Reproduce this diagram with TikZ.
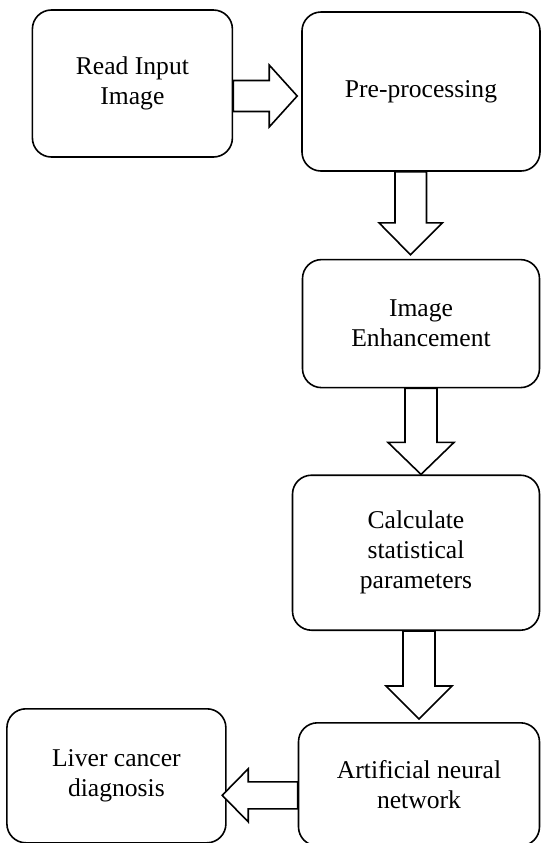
\documentclass[tikz,border=0pt]{standalone}
\usepackage{fontspec}
\setmainfont{Liberation Serif}
\usepackage{tikz}
\usetikzlibrary{positioning,calc}

\begin{document}
\begin{tikzpicture}[x=0.5pt, y=-0.5pt,
  box/.style={draw, line width=0.8pt, rounded corners=9.5pt, align=center,
    font=\fontsize{12.8pt}{15pt}\selectfont, inner sep=2pt},
  blk/.style={draw, line width=0.8pt, fill=white, line join=miter},
]
  \useasboundingbox (0,0) rectangle (541,843);

  \node[box, minimum width=119pt, minimum height=79.5pt] (pre) at (421,91.5) {Pre-processing};
  \node[box, minimum width=100pt, minimum height=73.5pt, left=34pt of pre, yshift=4pt] (read) {Read Input\\ Image};
  \node[box, minimum width=118.5pt, minimum height=64pt, below=43.5pt of pre] (enh) {Image\\ Enhancement};
  \node[box, minimum width=123.5pt, minimum height=77.5pt, below=43pt of enh, xshift=-2.5pt] (stats) {Calculate\\ statistical\\ parameters};
  \node[box, minimum width=120.5pt, minimum height=61.5pt, below=45.5pt of stats, xshift=1.5pt] (ann) {Artificial neural\\ network};
  \node[box, minimum width=109.5pt, minimum height=67pt, left=35.5pt of ann, yshift=4.25pt] (liver) {Liver cancer\\ diagnosis};

  % block arrows
  \draw[blk] ($(read.east)+(0,-3)$) -- ++(36,0) -- ++(0,-15.5) -- ($(pre.west)+(-4,4.5)$)
    -- ++(-28,31) -- ++(0,-15.5) -- ++(-36,0) -- cycle;
  \draw[blk] ($(pre.south)+(-26,0)$) -- ++(0,51) -- ++(-16,0) -- ($(enh.north)+(-10.5,-4)$)
    -- ++(32,-32) -- ++(-16,0) -- ++(0,-51) -- cycle;
  \draw[blk] ($(enh.south)+(-16,0)$) -- ++(0,54) -- ++(-17,0) -- ($(stats.north)+(5,0)$)
    -- ++(33,-32) -- ++(-17,0) -- ++(0,-54) -- cycle;
  \draw[blk] ($(stats.south)+(-13,0)$) -- ++(0,55) -- ++(-17,0) -- ($(ann.north)+(0,-3)$)
    -- ++(33,-33) -- ++(-17,0) -- ++(0,-55) -- cycle;
  \draw[blk] ($(ann.west)+(0,-2.5)$) -- ++(-49.5,0) -- ++(0,-13) -- ($(liver.east)+(-4.5,19.5)$)
    -- ++(26,26.5) -- ++(0,-13) -- ++(49.5,0) -- cycle;
\end{tikzpicture}
\end{document}
